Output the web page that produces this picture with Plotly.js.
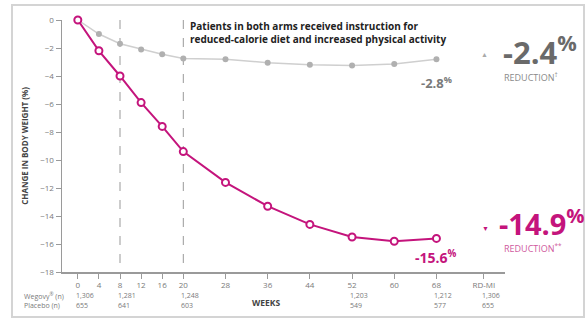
<!DOCTYPE html>
<html><head><meta charset="utf-8">
<script src="https://cdn.plot.ly/plotly-3.0.1.min.js"></script>
<style>html,body{margin:0;padding:0;background:#fff}#c{width:586px;height:319px}</style>
</head><body><div id="c"></div>
<script>
const weeks = [0,4,8,12,16,20,28,36,44,52,60,68];
const wegovy = [0,-2.2,-4.0,-5.9,-7.6,-9.4,-11.6,-13.3,-14.6,-15.5,-15.8,-15.6];
const placebo = [0,-1.0,-1.7,-2.1,-2.45,-2.75,-2.8,-3.05,-3.2,-3.25,-3.15,-2.8];
const tickVals = [0,4,8,12,16,20,28,36,44,52,60,68,77];
const tickText = ['0','4','8','12','16','20','28','36','44','52','60','68','RD-MI'];
const tableWeeks = [0,8,20,52,68,77];
const wegovyN = ['1,306','1,281','1,248','1,203','1,212','1,306'];
const placeboN = ['655','641','603','549','577','655'];
const dashedWeeks = [8,20];

const MAG = '#c4147c', GR = '#7a7a7a';
const font = 'Open Sans, sans-serif';

const traces = [
  {x: weeks, y: placebo, mode:'lines+markers', cliponaxis:false,
   line:{color:'#cfcfcf', width:1.5}, marker:{color:'#b0b0b0', size:6}},
  {x: weeks, y: wegovy, mode:'lines+markers', cliponaxis:false,
   line:{color:MAG, width:2}, marker:{color:'#fff', size:7, line:{color:MAG, width:2}}}
];

function A(o){ return Object.assign({showarrow:false, xanchor:'center', yanchor:'middle'}, o); }
const ann = [];
tableWeeks.forEach((w,i)=>{
  ann.push(A({x:w, xref:'x', y:-0.095, yref:'paper', text:wegovyN[i], xanchor:'left', xshift:-4, font:{family:font,size:7,color:GR}}));
  ann.push(A({x:w, xref:'x', y:-0.131, yref:'paper', text:placeboN[i], xanchor:'left', xshift:-4, font:{family:font,size:7,color:GR}}));
});
ann.push(A({x:-0.09, xref:'paper', y:-0.095, yref:'paper', text:'Wegovy<sup>®</sup> (n)', xanchor:'left', font:{family:font,size:7,color:GR}}));
ann.push(A({x:-0.09, xref:'paper', y:-0.131, yref:'paper', text:'Placebo (n)', xanchor:'left', font:{family:font,size:7,color:GR}}));
ann.push(A({x:(266-62)/443, xref:'paper', y:-0.123, yref:'paper', text:'<b>WEEKS</b>', font:{family:font,size:8.5,color:'#444'}}));
ann.push(A({x:(188-62)/443, xref:'paper', y:1.01, yref:'paper', yanchor:'top', xanchor:'left', align:'left',
  text:'<b>Patients in both arms received instruction for<br>reduced-calorie diet and increased physical activity</b>',
  font:{family:font,size:10,color:'#222'}}));
ann.push(A({x:weeks[weeks.length-1], y:placebo[placebo.length-1], yshift:-23,
  text:'<b>'+placebo[placebo.length-1].toFixed(1)+'<sup>%</sup></b>', font:{family:font,size:13,color:GR}}));
ann.push(A({x:weeks[weeks.length-1], y:wegovy[wegovy.length-1], yshift:-19,
  text:'<b>'+wegovy[wegovy.length-1].toFixed(1)+'<sup>%</sup></b>', font:{family:font,size:14,color:MAG}}));
// right summary
ann.push(A({x:(484-62)/443, xref:'paper', y:(272-55)/252, yref:'paper', text:'▲', font:{family:font,size:7,color:'#aaa'}}));
ann.push(A({x:(501-62)/443, xref:'paper', xanchor:'left', y:(272-50)/252, yref:'paper', text:'<b>-2.4<sup>%</sup></b>', font:{family:font,size:31,color:'#6a6a6a'}}));
ann.push(A({x:(502-62)/443, xref:'paper', xanchor:'left', y:(272-77)/252, yref:'paper', text:'REDUCTION<sup>†</sup>', font:{family:font,size:9,color:'#8a8a8a'}}));
ann.push(A({x:(485-62)/443, xref:'paper', y:(272-228)/252, yref:'paper', text:'▼', font:{family:font,size:7,color:MAG}}));
ann.push(A({x:(497-62)/443, xref:'paper', xanchor:'left', y:(272-222)/252, yref:'paper', text:'<b>-14.9<sup>%</sup></b>', font:{family:font,size:29,color:MAG}}));
ann.push(A({x:(502-62)/443, xref:'paper', xanchor:'left', y:(272-248)/252, yref:'paper', text:'REDUCTION<sup>**</sup>', font:{family:font,size:9,color:'#cf5a9e'}}));

const shapes = dashedWeeks.map(w=>({type:'line', xref:'x', yref:'y', x0:w, x1:w, y0:0, y1:-18, line:{color:'#999', width:1, dash:'dash'}, layer:'below'}));
shapes.push({type:'rect', xref:'paper', yref:'paper', x0:(12-62)/443, x1:(584-62)/443, y0:(272-317)/252, y1:(272-5)/252, line:{color:'#d4d4d4', width:2}});

const layout = {
  width:586, height:319, margin:{l:62, r:81, t:20, b:47},
  paper_bgcolor:'#fff', plot_bgcolor:'#fff', showlegend:false,
  xaxis:{range:[-3,81], tickvals:tickVals, ticktext:tickText, showgrid:false, zeroline:false,
    showline:true, linecolor:'#9a9a9a', linewidth:1.5, ticks:'outside', ticklen:5, tickcolor:'#9a9a9a',
    tickfont:{family:font,size:8,color:GR}},
  yaxis:{range:[-18,0], dtick:2, showgrid:false, zeroline:false, showline:true, linecolor:'#9a9a9a', linewidth:1.5,
    ticks:'outside', ticklen:5, tickcolor:'#9a9a9a', tickfont:{family:font,size:8,color:GR},
    title:{text:'<b>CHANGE IN BODY WEIGHT (%)</b>', standoff:10, font:{family:font,size:8,color:'#444'}}},
  annotations:ann, shapes:shapes
};
Plotly.newPlot('c', traces, layout, {staticPlot:true, displayModeBar:false});
</script></body></html>
